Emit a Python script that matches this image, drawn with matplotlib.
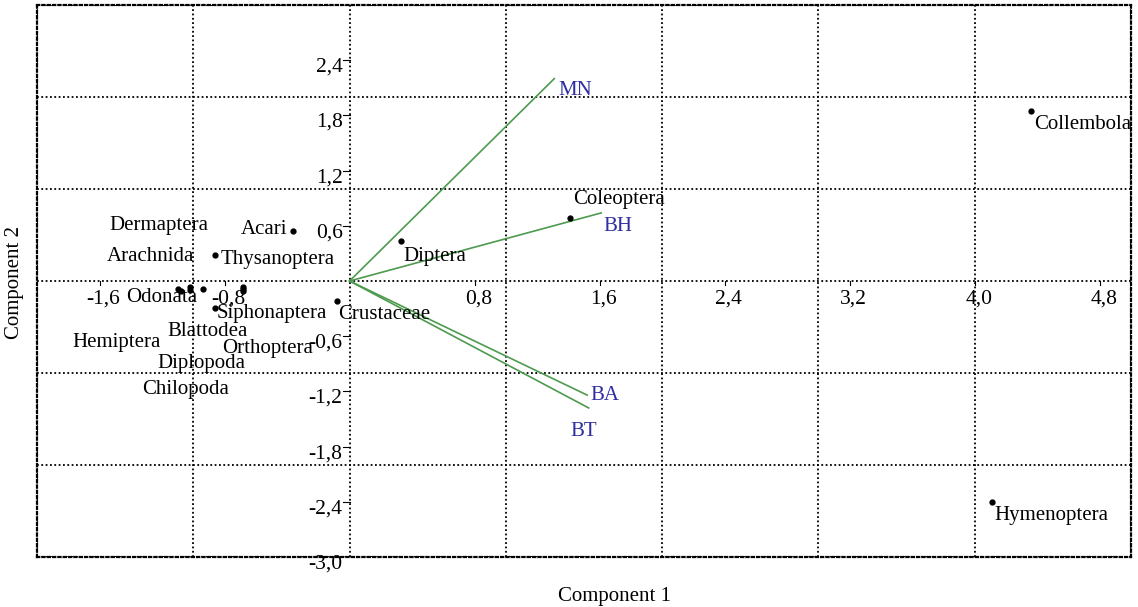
# PCA biplot: taxa scores and environmental vectors
import matplotlib
matplotlib.use('Agg')
import matplotlib.pyplot as plt
from matplotlib.ticker import MultipleLocator

plt.rcParams['font.family'] = ['Liberation Serif', 'DejaVu Serif']

# taxa scores (component 1, component 2)
taxa = ['Collembola', 'Hymenoptera', 'Coleoptera', 'Diptera', 'Crustaceae',
        'Acari', 'Thysanoptera', 'Siphonaptera', 'Dermaptera', 'Arachnida',
        'Odonata', 'Hemiptera', 'Chilopoda', 'Blattodea', 'Diplopoda', 'Orthoptera']
comp1 = [4.36, 4.11, 1.41, 0.33, -0.08, -0.36, -0.86, -0.86, -1.02, -1.02,
         -1.10, -1.08, -0.94, -0.68, -0.68, -0.68]
comp2 = [1.85, -2.40, 0.68, 0.43, -0.22, 0.54, 0.28, -0.29, -0.10, -0.07,
         -0.09, -0.11, -0.09, -0.07, -0.11, -0.09]

# label offsets in pixels (placement only)
lab_dx = [3, 2, 3, 2, 1, -6, 5, 1, -81, -83, -52, -108, -61, -76, -86, -21]
lab_dy = [-14, -14, 19, -15, -13, 2, -4, -6, 65, 31, -8, -51, -100, -44, -72, -59]
lab_ha = ['left'] * 5 + ['right'] + ['left'] * 10

# variable loadings
variables = ['MN', 'BH', 'BA', 'BT']
load1 = [1.31, 1.61, 1.52, 1.53]
load2 = [2.20, 0.74, -1.24, -1.38]
var_dx = [4, 2, 3, -18]
var_dy = [-12, -14, 0, -24]

xticks = [-1.6, -0.8, 0.8, 1.6, 2.4, 3.2, 4.0, 4.8]
xtick_labels = ['-1,6', '-0,8', '0,8', '1,6', '2,4', '3,2', '4,0', '4,8']
yticks = [2.4, 1.8, 1.2, 0.6, -0.6, -1.2, -1.8, -2.4, -3.0]
ytick_labels = ['2,4', '1,8', '1,2', '0,6', '-0,6', '-1,2', '-1,8', '-2,4', '-3,0']

fig = plt.figure(figsize=(11.38, 6.07), dpi=100)
ax = fig.add_axes([37 / 1138, 50 / 607, (1131 - 37) / 1138, (557 - 5) / 607])
ax.set_xlim(-2, 5)
ax.set_ylim(-3, 3)

dot = (0, (1, 1.4))
for s in ['top', 'right', 'left', 'bottom']:
    ax.spines[s].set_linestyle(dot)
    ax.spines[s].set_linewidth(1.6)
    ax.spines[s].set_color('black')

# grid at integer values
ax.xaxis.set_major_locator(MultipleLocator(1))
ax.yaxis.set_major_locator(MultipleLocator(1))
ax.grid(color='black', linestyle=dot, linewidth=1.3)
ax.tick_params(length=0, labelbottom=False, labelleft=False)

# ticks and labels on the axes through the origin
for x, t in zip(xticks, xtick_labels):
    ax.plot([x, x], [0, -0.04], color='black', lw=0.8)
    ax.annotate(t, (x, 0), xytext=(4, -18), textcoords='offset pixels',
                ha='center', va='center', fontsize=15.5)
for y, t in zip(yticks, ytick_labels):
    ax.plot([0, -0.04], [y, y], color='black', lw=0.8)
    ax.annotate(t, (0, y), xytext=(-7, -7), textcoords='offset pixels',
                ha='right', va='center', fontsize=15.5)

# loadings
for v, a, b, dx, dy in zip(variables, load1, load2, var_dx, var_dy):
    ax.plot([0, a], [0, b], color='#4e9a4e', lw=1.2)
    ax.annotate(v, (a, b), xytext=(dx, dy), textcoords='offset pixels',
                ha='left', va='center', fontsize=15, color='#2e2ea0')

# taxa
ax.plot(comp1, comp2, 'o', color='black', markersize=3.5)
for name, a, b, dx, dy, ha in zip(taxa, comp1, comp2, lab_dx, lab_dy, lab_ha):
    ax.annotate(name, (a, b), xytext=(dx, dy), textcoords='offset pixels',
                ha=ha, va='center', fontsize=15)

fig.text(615 / 1138, 1 - 597 / 607, 'Component 1', ha='center', va='center', fontsize=15)
fig.text(15 / 1138, 1 - 282 / 607, 'Component 2', ha='center', va='center',
         rotation=90, fontsize=15)

fig.savefig('out.png', dpi=100)
